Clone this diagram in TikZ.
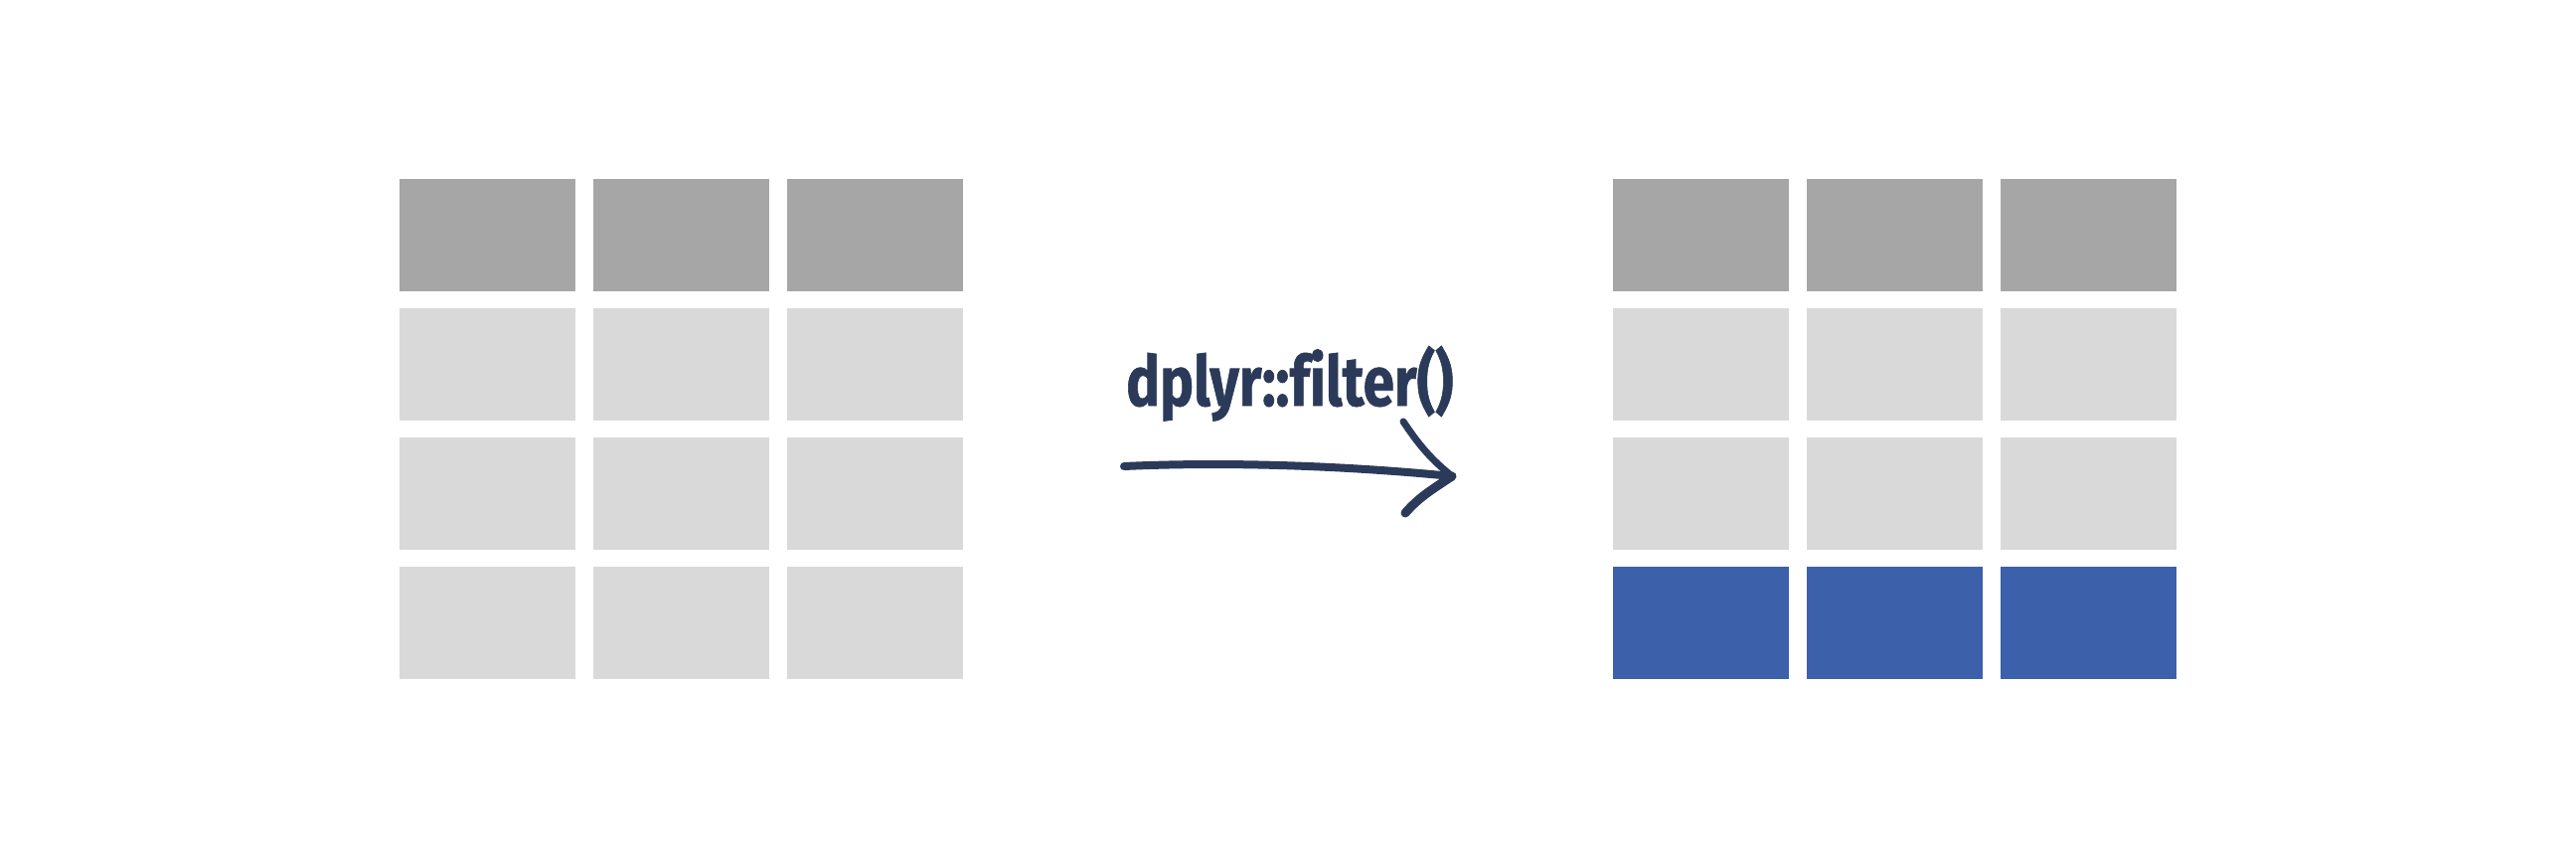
\documentclass[tikz,border=0pt]{standalone}
\usepackage{fontspec}
\usepackage{graphicx}
\setmainfont{Fira Sans}
\newfontfamily\labfont{Fira Sans}[Ligatures=NoCommon, FakeBold=1]
\definecolor{hdr}{HTML}{A6A6A6}
\definecolor{cellc}{HTML}{D9D9D9}
\definecolor{selc}{HTML}{3C60AA}
\definecolor{ink}{HTML}{2C3A5A}
\tikzset{
  cell/.style={draw=none, minimum width=177pt, minimum height=113pt, inner sep=0pt, anchor=north west},
  hdrcell/.style={cell, fill=hdr},
  bodycell/.style={cell, fill=cellc},
  selcell/.style={cell, fill=selc},
  brush/.style={draw=ink, line cap=round, line join=round},
}
\begin{document}
\begin{tikzpicture}[x=1pt, y=-1pt]
\useasboundingbox[fill=white] (0,0) rectangle (2592,864);
% left table
\foreach \c/\x in {1/402,2/597,3/792}{
  \node[hdrcell]  (L1\c) at (\x,180) {};
  \node[bodycell] (L2\c) at (\x,310) {};
  \node[bodycell] (L3\c) at (\x,440) {};
  \node[bodycell] (L4\c) at (\x,570) {};
}
% right table
\foreach \c/\x in {1/1623,2/1818,3/2013}{
  \node[hdrcell]  (R1\c) at (\x,180) {};
  \node[bodycell] (R2\c) at (\x,310) {};
  \node[bodycell] (R3\c) at (\x,440) {};
  \node[selcell]  (R4\c) at (\x,570) {};
}
% label
\node[anchor=base west, inner sep=0pt, text=ink] (lab) at (1133,408)
  {\scalebox{0.81}[1]{\labfont\bfseries\fontsize{70}{80}\selectfont dplyr::filter()}};
% arrow
\coordinate (a0) at (1131,469);
\coordinate (tip) at (1461,479);
\coordinate (h1) at (1412,424);
\coordinate (h2) at (1414,516);
\draw[brush, line width=8pt] (a0) .. controls (1240,464) and (1360,469) .. (tip);
\draw[brush, line width=7pt] (h1) .. controls (1428,448) and (1440,462) .. (tip);
\draw[brush, line width=9pt] (tip) .. controls (1440,493) and (1428,500) .. (h2);
\end{tikzpicture}
\end{document}
